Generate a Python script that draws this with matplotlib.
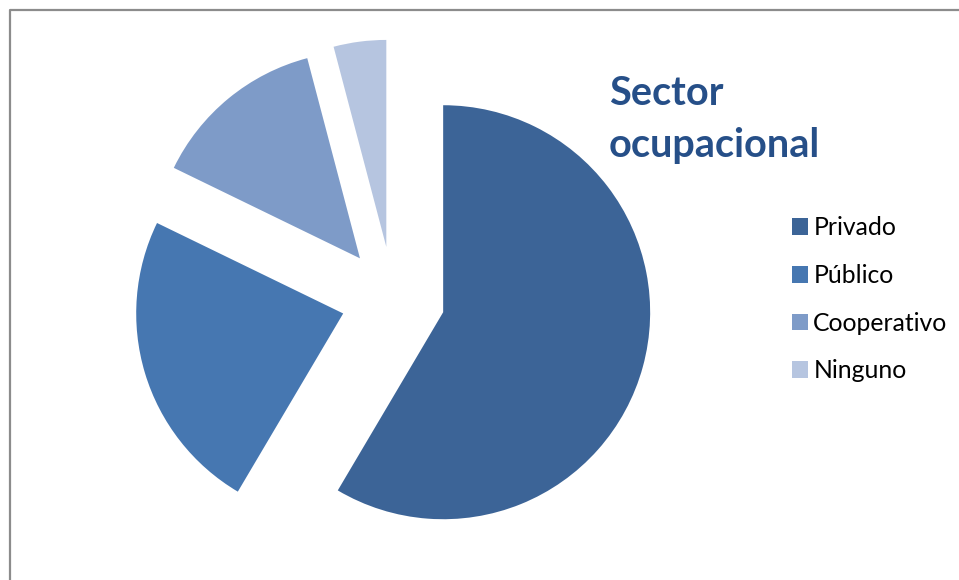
import matplotlib
matplotlib.use("Agg")
import matplotlib.pyplot as plt
from matplotlib.lines import Line2D

W, H = 959, 580

labels = ["Privado", "Público", "Cooperativo", "Ninguno"]
values = [58.5, 23.7, 13.7, 4.1]
colors = ["#3C6497", "#4677B1", "#7E9BC8", "#B6C5E0"]

fig = plt.figure(figsize=(W / 100, H / 100), dpi=100)
ax = fig.add_axes([0, 0, 1, 1])
ax.axis("off")

# explode is in data units here (pixels), radius 207 px
wedges, _ = ax.pie(values, colors=colors, explode=[52] * 4, startangle=90,
                   counterclock=False, radius=207, center=(393, H - 298.5),
                   wedgeprops=dict(linewidth=0))
ax.set_xlim(0, W)
ax.set_ylim(0, H)
ax.set_aspect("equal")

# chart frame (only left and top edges visible)
ax.add_line(Line2D([10, 10, W], [0, H - 10, H - 10], color="#8c8c8c", lw=1.6))

fig.text(609 / W, 1 - 75 / H, "Sector\nocupacional", ha="left", va="top",
         fontsize=28.5, fontweight="bold", color="#264F88", family="Lato",
         linespacing=1.5)

fig.legend(wedges, labels, loc="upper left", bbox_to_anchor=(770 / W, 1 - 194 / H),
           frameon=False, handlelength=0.65, handleheight=0.65,
           handletextpad=0.2, labelspacing=1.0, prop={"family": "Lato", "size": 17.8})

fig.savefig("out.png", dpi=100)
